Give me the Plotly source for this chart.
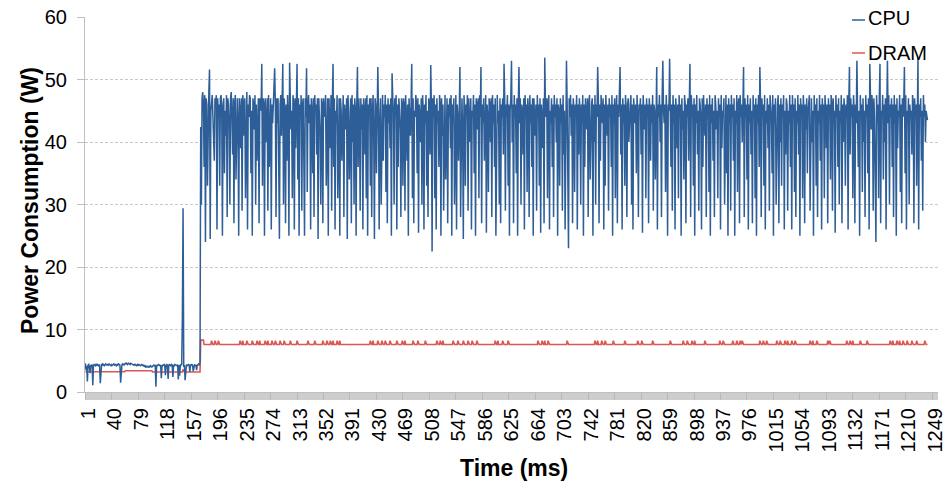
import plotly.graph_objects as go

# ---------------- data ----------------
# CPU power (W), samples 1..170 (idle phase)
cpu_idle = [
    4.6,3.5,4.2,1.7,4.3,4.4,4.0,3.0,4.3,4.2,4.4,1.1,4.3,4.4,4.3,4.2,4.5,4.3,4.4,4.2,
    4.3,4.4,1.4,4.3,4.4,4.5,4.3,4.4,4.2,4.3,4.5,4.4,4.3,4.4,4.3,4.5,4.4,4.3,4.2,4.4,
    4.3,4.4,4.5,4.3,4.4,4.3,4.2,4.4,4.3,4.5,4.4,4.3,1.5,4.3,4.4,4.5,4.4,4.3,4.5,4.6,
    4.5,4.6,4.4,4.5,4.6,4.5,4.4,4.6,4.5,4.5,4.4,4.3,4.4,4.3,4.4,4.3,4.2,4.4,4.3,4.4,
    4.3,4.2,4.3,4.4,4.3,4.2,4.3,4.1,4.2,4.0,4.1,4.0,4.1,4.0,4.1,4.0,4.2,4.1,4.0,4.1,
    4.2,4.3,4.2,4.3,0.85,4.3,4.2,4.3,4.4,4.3,4.2,4.3,2.2,4.3,4.2,4.3,4.4,4.2,2.7,4.3,
    4.4,4.3,2.1,4.3,4.4,4.3,4.2,4.4,4.3,2.4,4.3,4.2,4.4,4.3,4.3,4.2,4.4,2.0,4.3,2.6,
    4.3,4.4,4.3,12,29.4,4.0,4.3,1.9,4.3,4.4,4.2,4.3,4.4,4.3,3.2,4.4,4.3,4.4,4.3,3.3,
    4.3,4.4,4.3,4.2,3.5,4.4,4.3,4.5,4.4,4.6,
]

# CPU power (W), samples 171.. (loaded phase)
cpu_load = [
    42.4,30,47,48,46,36,47.5,24,47,46,33,47,48,51.6,24.5,45,47,47.5,44,40,37,47,46,47.5,26,47,44,46,33,47,
    47.5,45,25,46,47,35,45,41,47.5,28,47,46,43,30,47,48,44,38,47,27,46,47.5,34,46,47,43,25,47,45,39,
    47,29,47.5,46,41,47,31,44,48,26,46,44,47.5,47,35,45,25,47,46,42,47.5,30,46,37,44,47,27,47,46,45,
    52.5,33,47,46,25,47,40,45,47,29,47.5,36,44,47,26,46,43,47,47.5,51.8,46,28,47,43,47,33,24.5,46,47.5,41,
    47,52.5,30,47,45,27,46,37,47.5,44,25,52.7,47,42,45,31,47.5,46,26,47,39,45,52.5,34,47,25,46,44,47.5,29,
    46,47,37,25,47,44,51.8,32,46,47.5,43,46,26,47,45,35,47,28,47.5,45,46,38,47,24.5,47,44,41,30,47,46,
    27,47,45,44,47.5,33,46,47,25,47,43,39,47.5,29,46,52.5,36,47,26,45,43,47.5,31,46,47,25,47,45,37,46,
    47.5,28,46,44,42,47,24.5,47.5,45,34,46,47,27,47.5,40,46,30,47,45,25,46,52,36,47,44,29,47,42,46,26,
    47,45,38,47,31,47.5,25,46,44,47,33,47,28,45,47.5,41,24.5,47,46,35,47,52,45,26,43,47,30,46,47.5,37,
    46,44,47.5,32,46,27,47,43,46,39,47,25,51,47,45,30,47,44,47.5,26,46,36,47,45,42,28,47,46,33,47,
    46,29,47.5,44,37,46,25,47,45,41,46,52.5,31,47,27,45,44,47.5,46,35,47,25.5,46,44,40,47,30,47.5,45,26,
    46,43,47.5,33,45,28,47,46,38,52.3,45,22.5,47,44,47.5,31,46,26,47,43,45,36,47.5,46,25,47,41,46,29,47,
    47.5,34,45,47,27,46,44,47,39,47.5,25,46,43,47,30,45,47.5,26,46,44,37,47,52,28,46,47,42,24.5,47.5,45,
    33,46,44,47.5,29,47,40,46,47,26,45,44,47.5,35,46,25,47,46,42,47,31,47.5,44,52,27,46,43,47,37,45,
    47.5,25.5,46,44,32,47,46,40,47,28,47.5,43,46,36,47,25,46,47.5,43,45,30,47,27,46,44,47,38,52.5,47,29,
    46,44,47.5,33,46,25,45,47,53,40,46,27,47.5,44,46,35,47,25,46,52,43,47,30,46,45,38,47,26,47.5,44,
    46,32,47,45,28,47.5,43,46,36,47,25,47,45,41,46,29,47.5,44,46,33,47,25.5,46,44,39,47,27,53.5,46,44,
    47,31,46,47.5,26,45,43,47,36,46,28,47.5,44,46,40,47,25,46,45,33,47,43,46,29,47.5,38,45,26,47,53,
    46,35,23,47,44,47.5,41,46,27,47,45,32,46,44,47.5,26,46,38,47,45,30,46,43,47.5,25,46,36,47,45,42,
    47,28,46,47.5,34,45,46,47,25,46,40,47.5,30,46,44,52,47,27,46,37,47.5,45,43,47,26,46,33,47.5,44,41,
    46,29,47,44,46,36,47.5,25,46,43,47,31,45,47.5,27,46,44,47,52,38,46,26,47,43,46,33,47.5,45,28,46,
    47,40,45,46,47.5,30,46,26,47,45,43,46,35,47.5,44,28,46,45,47,38,46,25.5,47.5,44,42,46,31,47,44,46,
    27,47,45,37,46,43,47.5,29,46,45,34,47,52,26,46,44,47.5,40,46,28,47,53,45,43,46,32,47.5,44,25,46,
    45,53.3,47,36,46,29,47.5,43,46,26,47,45,39,46,31,47.5,44,46,25,47,42,45,34,47.5,46,27,46,44,47,37,
    46,52.5,28,47.5,44,46,33,47,25,46,43,47.5,38,45,29,47,46,44,26,47,36,47.5,45,41,46,28,47,44,46,32,
    47.5,25,46,43,47,37,45,28,47.5,46,42,45,31,47,44,46,26,47.5,39,45,44,47,30,46,47.5,35,46,25,47,43,
    46,29,47.5,44,46,37,47,25,45,43,47.5,32,46,47,27,47.5,44,46,40,45,52,28,47,44,46,34,47.5,26,46,43,
    47,38,45,27,47.5,44,46,31,47,25,46,43,47.5,36,52,46,28,47,44,46,33,47.5,26,45,43,47,39,46,29,47.5,
    46,44,35,47.5,25,46,43,47,30,45,46,47.5,27,46,40,47,33,46,44,47.5,26,45,38,47,46,29,45,43,47.5,36,
    46,26,47.5,44,46,32,47,28,45,43,47.5,38,46,25,47,44,46,31,47.5,45,27,46,42,47,35,45,46,47.5,29,46,
    47,40,45,25,47.5,44,46,33,47,28,45,43,47.5,37,46,26,47,44,46,31,47.5,45,39,46,27,47,44,46,34,47.5,
    46,29,47,43,45,25.5,47.5,44,46,36,47,30,45,43,47.5,27,46,40,47,45,33,46,44,47.5,26,46,52,38,47,44,
    46,31,47.5,45,27,46,43,53,47,36,45,25,47.5,44,46,32,47,40,45,28,47.5,44,46,35,47,26,52.5,45,42,47.5,
    46,29,47,44,37,24,47.5,43,46,31,47,52.5,27,45,44,47.5,34,46,40,47,26,45,53,43,47.5,30,46,44,47,36,
    46,28,47.5,43,46,25,47,39,45,44,47.5,32,46,27,47,44,46,52,35,47.5,26,45,43,47,30,46,44,45,38,47.5,
    46,27,47,44,46,33,47.5,53.5,26,46,44,47,37,45,29,47.5,44,46,40,45,44,43.5,
]

# DRAM power (W): base levels (value, first sample) and short spikes
dram_levels = [3.25, 3.4, 3.2, 3.6, 3.2, 8.3, 7.6]
dram_level_from = [1, 60, 100, 145, 146, 171, 176]
dram_spike_value = 8.2
dram_spike_times = [
    187, 192, 197, 229, 233, 239, 247, 254, 258, 266, 270, 276, 281, 288, 294, 303, 313,
    329, 339, 351, 357, 362, 366, 372, 376, 421, 425, 432, 438, 443, 450, 460, 468, 472,
    484, 491, 502, 519, 524, 528, 543, 550, 558, 565, 571, 578, 605, 609, 616, 624, 668,
    674, 678, 683, 711, 752, 756, 762, 767, 779, 796, 815, 821, 837, 863, 882, 888, 895,
    899, 914, 936, 941, 955, 961, 966, 969, 995, 1000, 1005, 1020, 1025, 1032, 1036, 1042,
    1047, 1069, 1073, 1079, 1095, 1098, 1123, 1128, 1132, 1143, 1153, 1187, 1191, 1197,
    1201, 1206, 1212, 1219, 1226, 1238,
]

x_tick_labels = [str(v) for v in range(1, 1250, 39)]  # 1, 40, 79, ... 1249
y_ticks = [0, 10, 20, 30, 40, 50, 60]
n_categories = 1257

# ---------------- build series ----------------
cpu = cpu_idle + cpu_load
n = len(cpu)
t = list(range(1, n + 1))

dram = []
for s in t:
    lvl = dram_levels[0]
    for v, f in zip(dram_levels, dram_level_from):
        if s >= f:
            lvl = v
    dram.append(lvl)
for s in dram_spike_times:
    if 1 <= s <= n:
        dram[s - 1] = dram_spike_value

BLUE = "#2E5E97"
RED = "#DC5853"
FONT = "Liberation Sans"

fig = go.Figure()
fig.add_trace(go.Scatter(x=t, y=dram, mode="lines", name="DRAM",
                         line=dict(color=RED, width=1.6), showlegend=False))
fig.add_trace(go.Scatter(x=t, y=cpu, mode="lines", name="CPU",
                         line=dict(color=BLUE, width=1.5), showlegend=False))

L, R, T, B = 85, 13, 17, 101
fig.update_layout(
    width=951, height=493,
    margin=dict(l=L, r=R, t=T, b=B, autoexpand=False),
    paper_bgcolor="white", plot_bgcolor="white",
    font=dict(family=FONT, size=20, color="#000000"),
)
fig.update_xaxes(
    range=[0.5, n_categories + 0.5],
    tickmode="array",
    tickvals=[int(v) for v in x_tick_labels],
    ticktext=x_tick_labels,
    tickangle=-90,
    ticklabelshift=3,
    tickfont=dict(family=FONT, size=20, color="#000000"),
    ticks="outside", ticklen=7, tickcolor="#B8B8B8", tickwidth=1,
    minor=dict(tickmode="linear", tick0=1, dtick=1, ticks="outside",
               ticklen=7, tickcolor="#CDCDCD", tickwidth=1, showgrid=False),
    showline=True, linecolor="#BFBFBF", linewidth=1,
    showgrid=False, zeroline=False,
)
fig.update_yaxes(
    range=[0, 60],
    tickmode="array", tickvals=y_ticks,
    tickfont=dict(family=FONT, size=20, color="#000000"),
    ticks="outside", ticklen=7, tickcolor="#BFBFBF",
    ticklabelstandoff=6,
    showline=True, linecolor="#BFBFBF", linewidth=1,
    showgrid=True, gridcolor="#C8C8C8", griddash="3px,2px", gridwidth=1,
    zeroline=False,
)

W = 951 - L - R
H = 493 - T - B
def px(xp):
    return (xp - L) / W
def py(yp):
    return (493 - B - yp) / H

fig.add_annotation(text="<b>Time (ms)</b>", xref="paper", yref="paper",
                   x=px(514), y=py(468), xanchor="center", yanchor="middle",
                   showarrow=False,
                   font=dict(family=FONT, size=23, color="#000000"))
fig.add_annotation(text="<b>Power Consumption (W)</b>", xref="paper", yref="paper",
                   x=px(30), y=py(201), xanchor="center", yanchor="middle",
                   showarrow=False, textangle=-90,
                   font=dict(family=FONT, size=23, color="#000000"))

# legend (drawn manually to match the compact layout)
for name, color, yc, yl in [("CPU", BLUE, 18, 20), ("DRAM", RED, 53, 53)]:
    fig.add_shape(type="line", xref="paper", yref="paper",
                  x0=px(852), x1=px(865), y0=py(yl), y1=py(yl),
                  line=dict(color=color, width=1.5))
    fig.add_annotation(text=name, xref="paper", yref="paper",
                       x=px(866), y=py(yc), xanchor="left", yanchor="middle",
                       showarrow=False,
                       font=dict(family=FONT, size=20, color="#000000"))

fig.write_html("out.html")
